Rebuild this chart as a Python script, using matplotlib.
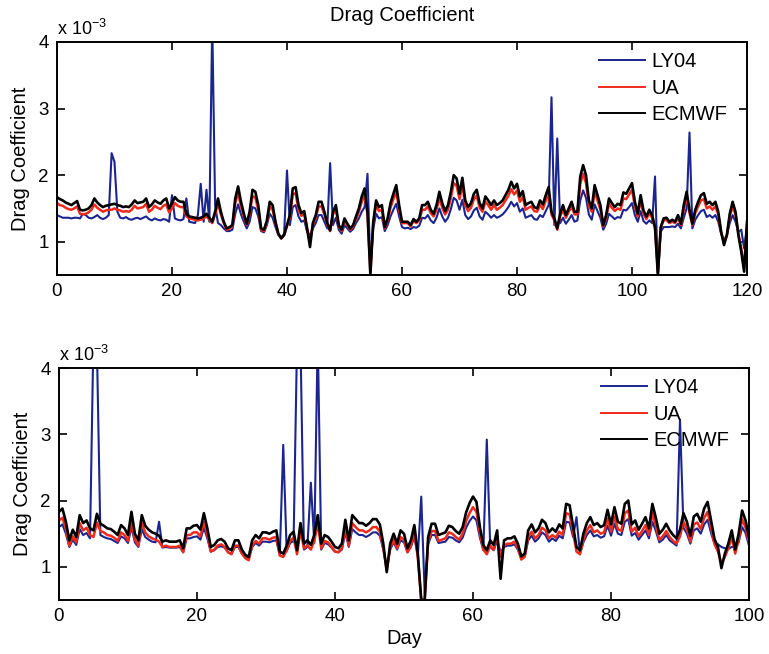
import numpy as np
import matplotlib
matplotlib.use("Agg")
import matplotlib.pyplot as plt

plt.rcParams['font.family'] = ['Liberation Sans', 'DejaVu Sans']
plt.rcParams['mathtext.fontset'] = 'custom'
plt.rcParams['mathtext.rm'] = 'Liberation Sans'
plt.rcParams['mathtext.default'] = 'regular'

# ---------------- data (values in units of 1e-3) ----------------
days_top = np.arange(0, 120.5, 0.5)
days_bot = np.arange(0, 100.5, 0.5)

ecmwf_top = [
    1.67, 1.64, 1.62, 1.59, 1.57, 1.55, 1.58, 1.61, 1.48, 1.47,
    1.48, 1.50, 1.55, 1.65, 1.59, 1.55, 1.52, 1.54, 1.55, 1.56,
    1.57, 1.55, 1.54, 1.52, 1.53, 1.52, 1.56, 1.62, 1.58, 1.59,
    1.60, 1.65, 1.52, 1.56, 1.62, 1.59, 1.57, 1.62, 1.65, 1.50,
    1.58, 1.67, 1.62, 1.60, 1.60, 1.42, 1.38, 1.37, 1.36, 1.35,
    1.36, 1.38, 1.42, 1.36, 1.30, 1.45, 1.65, 1.45, 1.30, 1.20,
    1.22, 1.25, 1.65, 1.83, 1.60, 1.42, 1.27, 1.45, 1.78, 1.75,
    1.55, 1.20, 1.18, 1.32, 1.60, 1.55, 1.30, 1.12, 1.05, 1.10,
    1.25, 1.40, 1.80, 1.82, 1.55, 1.43, 1.46, 1.20, 0.92, 1.28,
    1.40, 1.60, 1.60, 1.45, 1.28, 1.17, 1.45, 1.55, 1.25, 1.18,
    1.35, 1.27, 1.20, 1.25, 1.38, 1.50, 1.68, 1.80, 1.45, 0.50,
    1.30, 1.62, 1.52, 1.55, 1.22, 1.35, 1.58, 1.72, 1.85, 1.55,
    1.30, 1.30, 1.30, 1.25, 1.34, 1.30, 1.35, 1.55, 1.55, 1.60,
    1.48, 1.42, 1.55, 1.75, 1.58, 1.46, 1.55, 1.75, 2.00, 1.95,
    1.72, 1.96, 1.62, 1.52, 1.58, 1.72, 1.78, 1.58, 1.50, 1.68,
    1.62, 1.55, 1.62, 1.55, 1.58, 1.62, 1.70, 1.78, 1.90, 1.80,
    1.87, 1.68, 1.76, 1.55, 1.58, 1.60, 1.52, 1.50, 1.62, 1.56,
    1.70, 1.82, 1.45, 1.35, 1.20, 1.42, 1.55, 1.40, 1.50, 1.60,
    1.45, 1.45, 1.98, 2.15, 2.00, 1.62, 1.50, 1.85, 1.70, 1.55,
    1.25, 1.40, 1.65, 1.58, 1.52, 1.57, 1.55, 1.74, 1.72, 1.80,
    1.88, 1.60, 1.42, 1.70, 1.47, 1.38, 1.48, 1.40, 1.22, 0.50,
    1.22, 1.35, 1.36, 1.30, 1.33, 1.30, 1.40, 1.27, 1.55, 1.75,
    1.48, 1.27, 1.48, 1.60, 1.70, 1.73, 1.57, 1.60, 1.55, 1.60,
    1.45, 1.15, 0.95, 1.10, 1.42, 1.60, 1.45, 1.10, 0.85, 0.55,
    1.30,
]

ua_top = [
    1.58, 1.55, 1.54, 1.51, 1.49, 1.48, 1.50, 1.53, 1.42, 1.41,
    1.42, 1.44, 1.48, 1.56, 1.51, 1.48, 1.45, 1.47, 1.48, 1.48,
    1.50, 1.48, 1.47, 1.45, 1.46, 1.45, 1.48, 1.54, 1.50, 1.51,
    1.52, 1.57, 1.45, 1.48, 1.54, 1.51, 1.49, 1.54, 1.56, 1.44,
    1.50, 1.58, 1.54, 1.52, 1.52, 1.38, 1.35, 1.34, 1.33, 1.32,
    1.33, 1.35, 1.38, 1.33, 1.28, 1.41, 1.58, 1.41, 1.28, 1.18,
    1.20, 1.23, 1.58, 1.73, 1.53, 1.38, 1.25, 1.41, 1.69, 1.66,
    1.48, 1.18, 1.16, 1.29, 1.53, 1.48, 1.28, 1.11, 1.05, 1.10,
    1.23, 1.36, 1.71, 1.73, 1.48, 1.39, 1.41, 1.18, 1.00, 1.25,
    1.36, 1.53, 1.53, 1.41, 1.25, 1.16, 1.41, 1.48, 1.23, 1.16,
    1.32, 1.25, 1.18, 1.23, 1.34, 1.45, 1.60, 1.71, 1.41, 0.55,
    1.28, 1.55, 1.46, 1.48, 1.20, 1.32, 1.51, 1.64, 1.75, 1.48,
    1.28, 1.28, 1.28, 1.23, 1.31, 1.28, 1.32, 1.48, 1.48, 1.53,
    1.43, 1.38, 1.48, 1.66, 1.51, 1.41, 1.48, 1.66, 1.88, 1.84,
    1.64, 1.85, 1.55, 1.46, 1.51, 1.64, 1.69, 1.51, 1.45, 1.60,
    1.55, 1.48, 1.55, 1.48, 1.51, 1.55, 1.62, 1.69, 1.79, 1.71,
    1.77, 1.60, 1.67, 1.48, 1.51, 1.53, 1.46, 1.45, 1.55, 1.49,
    1.62, 1.72, 1.41, 1.32, 1.18, 1.38, 1.48, 1.36, 1.45, 1.53,
    1.41, 1.41, 1.87, 2.02, 1.88, 1.55, 1.45, 1.75, 1.62, 1.48,
    1.23, 1.36, 1.57, 1.51, 1.46, 1.50, 1.48, 1.65, 1.64, 1.71,
    1.78, 1.53, 1.38, 1.62, 1.42, 1.34, 1.43, 1.36, 1.20, 0.55,
    1.21, 1.32, 1.33, 1.28, 1.30, 1.28, 1.36, 1.25, 1.48, 1.66,
    1.43, 1.25, 1.43, 1.53, 1.62, 1.64, 1.50, 1.53, 1.48, 1.53,
    1.41, 1.14, 0.98, 1.10, 1.38, 1.53, 1.41, 1.12, 0.90, 0.60,
    1.25,
]

ly04_top = [
    1.40, 1.38, 1.36, 1.36, 1.36, 1.35, 1.36, 1.36, 1.35, 1.42,
    1.40, 1.36, 1.35, 1.37, 1.40, 1.36, 1.34, 1.36, 1.40, 2.33,
    2.20, 1.45, 1.36, 1.35, 1.37, 1.34, 1.33, 1.35, 1.36, 1.34,
    1.36, 1.38, 1.34, 1.32, 1.35, 1.33, 1.32, 1.34, 1.33, 1.30,
    1.70, 1.35, 1.33, 1.32, 1.34, 1.65, 1.30, 1.29, 1.28, 1.40,
    1.87, 1.30, 1.78, 1.30, 4.30, 1.55, 1.28, 1.25, 1.20, 1.16,
    1.16, 1.18, 1.42, 1.56, 1.41, 1.30, 1.20, 1.30, 1.52, 1.50,
    1.38, 1.16, 1.14, 1.25, 1.42, 1.36, 1.22, 1.10, 1.06, 1.12,
    2.07, 1.25, 1.52, 1.55, 1.38, 1.30, 1.32, 1.15, 1.10, 1.20,
    1.28, 1.40, 1.40, 1.30, 1.20, 2.18, 1.25, 1.36, 1.18, 1.12,
    1.25, 1.20, 1.15, 1.19, 1.28, 1.35, 1.45, 1.52, 2.02, 0.60,
    1.20, 1.42, 1.35, 1.37, 1.16, 1.25, 1.38, 1.48, 1.57, 1.38,
    1.22, 1.20, 1.21, 1.19, 1.22, 1.21, 1.24, 1.36, 1.35, 1.40,
    1.32, 1.28, 1.36, 1.50, 1.38, 1.30, 1.36, 1.49, 1.66, 1.62,
    1.48, 1.63, 1.40, 1.34, 1.38, 1.47, 1.51, 1.38, 1.33, 1.45,
    1.41, 1.36, 1.40, 1.36, 1.38, 1.41, 1.46, 1.52, 1.60, 1.53,
    1.58, 1.45, 1.50, 1.36, 1.38, 1.40, 1.34, 1.33, 1.40, 1.37,
    1.46, 1.55, 3.17, 1.25, 2.55, 1.28, 1.36, 1.27, 1.33, 1.40,
    1.30, 1.32, 1.62, 1.77, 1.66, 1.41, 1.33, 1.56, 1.46, 1.36,
    1.18, 1.27, 1.42, 1.38, 1.34, 1.37, 1.36, 1.48, 1.47, 1.52,
    1.58, 1.40, 1.30, 1.46, 1.31, 1.27, 1.32, 1.28, 1.98, 0.50,
    1.15, 1.22, 1.22, 1.22, 1.23, 1.22, 1.27, 1.20, 1.36, 1.50,
    2.64, 1.20, 1.33, 1.40, 1.46, 1.48, 1.37, 1.40, 1.36, 1.40,
    1.30, 1.12, 1.02, 1.10, 1.28, 1.40, 1.30, 1.15, 1.18, 0.90,
    1.22,
]

ecmwf_bot = [
    1.83, 1.88, 1.68, 1.40, 1.56, 1.45, 1.78, 1.66, 1.70, 1.58,
    1.55, 1.80, 1.65, 1.62, 1.58, 1.57, 1.53, 1.48, 1.63, 1.58,
    1.48, 1.83, 1.50, 1.40, 1.78, 1.62, 1.56, 1.52, 1.50, 1.47,
    1.38, 1.40, 1.38, 1.38, 1.38, 1.40, 1.28, 1.58, 1.58, 1.62,
    1.63, 1.56, 1.81, 1.58, 1.30, 1.33, 1.40, 1.42, 1.38, 1.28,
    1.25, 1.40, 1.40, 1.26, 1.18, 1.15, 1.40, 1.48, 1.43, 1.52,
    1.52, 1.50, 1.53, 1.55, 1.23, 1.20, 1.32, 1.48, 1.53, 1.25,
    1.66, 1.35, 1.40, 1.33, 1.48, 1.78, 1.35, 1.48, 1.45, 1.38,
    1.30, 1.28, 1.35, 1.71, 1.40, 1.78, 1.72, 1.66, 1.66, 1.62,
    1.66, 1.72, 1.72, 1.64, 1.35, 0.92, 1.35, 1.50, 1.35, 1.55,
    1.50, 1.28, 1.40, 1.63, 1.20, 0.50, 0.50, 1.45, 1.65, 1.65,
    1.48, 1.50, 1.52, 1.62, 1.60, 1.54, 1.50, 1.60, 1.82, 1.96,
    2.06, 1.98, 1.60, 1.33, 1.25, 1.40, 1.33, 1.55, 0.82, 1.40,
    1.43, 1.43, 1.46, 1.35, 1.16, 1.20, 1.55, 1.64, 1.52, 1.58,
    1.71, 1.66, 1.52, 1.58, 1.53, 1.64, 1.58, 1.95, 1.93, 1.62,
    1.30, 1.25, 1.50, 1.66, 1.75, 1.63, 1.66, 1.60, 1.63, 1.86,
    1.64, 1.90, 1.68, 1.65, 1.95, 2.00, 1.64, 1.70, 1.56, 1.65,
    1.75, 1.58, 1.95, 1.74, 1.50, 1.56, 1.65, 1.55, 1.48, 1.43,
    1.56, 1.81, 1.68, 1.47, 1.76, 1.80, 1.68, 1.88, 1.98, 1.70,
    1.42, 1.30, 0.98, 1.20, 1.35, 1.55, 1.26, 1.50, 1.85, 1.70,
    1.45,
]

ua_bot = [
    1.70, 1.74, 1.57, 1.32, 1.46, 1.37, 1.66, 1.55, 1.59, 1.48,
    1.45, 1.67, 1.54, 1.52, 1.48, 1.47, 1.44, 1.39, 1.52, 1.48,
    1.39, 1.70, 1.41, 1.32, 1.66, 1.52, 1.46, 1.43, 1.41, 1.38,
    1.30, 1.32, 1.30, 1.30, 1.30, 1.32, 1.22, 1.48, 1.48, 1.52,
    1.52, 1.46, 1.68, 1.48, 1.23, 1.26, 1.32, 1.34, 1.30, 1.22,
    1.19, 1.32, 1.32, 1.20, 1.13, 1.10, 1.32, 1.39, 1.35, 1.43,
    1.43, 1.41, 1.44, 1.45, 1.17, 1.15, 1.25, 1.39, 1.44, 1.19,
    1.55, 1.28, 1.32, 1.26, 1.39, 1.66, 1.28, 1.39, 1.37, 1.30,
    1.23, 1.22, 1.28, 1.59, 1.32, 1.66, 1.60, 1.55, 1.55, 1.52,
    1.55, 1.60, 1.60, 1.53, 1.28, 0.95, 1.28, 1.41, 1.28, 1.45,
    1.41, 1.22, 1.32, 1.52, 1.15, 0.50, 0.50, 1.37, 1.54, 1.54,
    1.39, 1.41, 1.43, 1.52, 1.50, 1.45, 1.41, 1.50, 1.69, 1.81,
    1.90, 1.83, 1.50, 1.26, 1.19, 1.32, 1.26, 1.45, 1.15, 1.32,
    1.35, 1.35, 1.38, 1.28, 1.11, 1.15, 1.45, 1.53, 1.43, 1.48,
    1.59, 1.55, 1.43, 1.48, 1.44, 1.53, 1.48, 1.81, 1.79, 1.52,
    1.23, 1.19, 1.41, 1.55, 1.63, 1.52, 1.55, 1.50, 1.52, 1.73,
    1.53, 1.76, 1.57, 1.54, 1.81, 1.85, 1.53, 1.59, 1.46, 1.54,
    1.63, 1.48, 1.81, 1.62, 1.41, 1.46, 1.54, 1.45, 1.39, 1.35,
    1.46, 1.68, 1.57, 1.38, 1.64, 1.67, 1.57, 1.74, 1.83, 1.59,
    1.34, 1.23, 1.05, 1.15, 1.28, 1.45, 1.20, 1.41, 1.72, 1.59,
    1.37,
]

ly04_bot = [
    1.60, 1.64, 1.50, 1.30, 1.41, 1.33, 1.57, 1.48, 1.51, 1.43,
    4.50, 4.30, 1.48, 1.45, 1.43, 1.42, 1.39, 1.36, 1.46, 1.43,
    1.36, 1.60, 1.37, 1.30, 1.57, 1.45, 1.41, 1.38, 1.37, 1.68,
    1.29, 1.30, 1.29, 1.29, 1.29, 1.30, 1.22, 1.43, 1.43, 1.45,
    1.46, 1.41, 1.59, 1.43, 1.23, 1.25, 1.30, 1.31, 1.29, 1.22,
    1.20, 1.30, 1.30, 1.20, 1.15, 1.13, 1.30, 1.36, 1.32, 1.38,
    1.38, 1.37, 1.39, 1.40, 1.18, 2.84, 1.24, 1.36, 1.39, 4.40,
    4.40, 1.26, 1.30, 2.27, 1.36, 4.50, 1.26, 1.36, 1.34, 1.29,
    1.23, 1.22, 1.26, 1.52, 1.30, 1.57, 1.52, 1.48, 1.48, 1.45,
    1.48, 1.52, 1.52, 1.47, 1.26, 1.00, 1.26, 1.37, 1.26, 1.40,
    1.37, 1.22, 1.30, 1.46, 1.16, 2.06, 0.60, 1.34, 1.48, 1.48,
    1.36, 1.37, 1.38, 1.45, 1.44, 1.40, 1.37, 1.44, 1.59, 1.69,
    1.76, 1.70, 1.44, 1.25, 2.92, 1.30, 1.25, 1.40, 1.22, 1.30,
    1.32, 1.32, 1.34, 1.26, 1.13, 1.16, 1.40, 1.47, 1.38, 1.43,
    1.52, 1.48, 1.38, 1.43, 1.39, 1.47, 1.43, 1.68, 1.67, 1.45,
    1.75, 1.20, 1.37, 1.48, 1.55, 1.46, 1.48, 1.44, 1.46, 1.62,
    1.47, 1.65, 1.50, 1.48, 1.68, 1.72, 1.47, 1.51, 1.41, 1.48,
    1.55, 1.43, 1.68, 1.54, 1.37, 1.41, 1.48, 1.40, 1.36, 1.32,
    3.22, 1.59, 1.50, 1.35, 1.55, 1.58, 1.50, 1.64, 1.71, 1.51,
    1.35, 1.34, 1.30, 1.28, 1.27, 1.30, 1.30, 1.37, 1.60, 1.51,
    1.32,
]

series_names = ['LY04', 'UA', 'ECMWF']
title_text = 'Drag Coefficient'
ylabel_text = 'Drag Coefficient'
xlabel_text = 'Day'
yticks = [1, 2, 3, 4]
xticks_top = [0, 20, 40, 60, 80, 100, 120]
xticks_bot = [0, 20, 40, 60, 80, 100]

# ---------------- style ----------------
col_ly = '#1b2590'
col_ua = '#ee2a1c'
col_ec = '#000000'

fig = plt.figure(figsize=(7.69, 6.54), dpi=100)
ax1 = fig.add_axes([0.0741, 0.5795, 0.8973, 0.3563])
ax2 = fig.add_axes([0.0767, 0.0826, 0.8973, 0.3547])


def draw(ax, d, ly, ua, ec, xticks, xmax):
    ax.plot(d, ly, color=col_ly, lw=1.5, label=series_names[0])
    ax.plot(d, ua, color=col_ua, lw=1.8, label=series_names[1])
    ax.plot(d, ec, color=col_ec, lw=1.9, label=series_names[2])
    ax.set_xlim(0, xmax)
    ax.set_ylim(0.5, 4)
    ax.set_xticks(xticks)
    ax.set_yticks(yticks)
    ax.tick_params(direction='in', top=True, right=True, length=5.5,
                   width=1.2, labelsize=13.5, pad=6)
    for s in ax.spines.values():
        s.set_linewidth(1.4)
    ax.set_ylabel(ylabel_text, fontsize=14.5, labelpad=6)
    ax.text(0.0, 1.03, 'x 10$^{\u22123}$', transform=ax.transAxes,
            fontsize=13, ha='left', va='baseline')
    leg = ax.legend(loc='upper left', bbox_to_anchor=(0.785, 0.955),
                    frameon=False, borderpad=0, borderaxespad=0,
                    handlelength=2.3, handletextpad=0.3, labelspacing=0.36,
                    fontsize=14.5)
    for h in leg.get_lines():
        h.set_linewidth(1.4)


draw(ax1, days_top, ly04_top, ua_top, ecmwf_top, xticks_top, 120)
draw(ax2, days_bot, ly04_bot, ua_bot, ecmwf_bot, xticks_bot, 100)

ax1.set_title(title_text, fontsize=14.5, pad=15)
ax2.set_xlabel(xlabel_text, fontsize=14.5, labelpad=3)

fig.savefig('out.png', dpi=100)
